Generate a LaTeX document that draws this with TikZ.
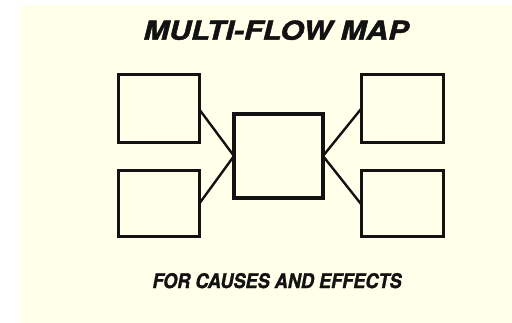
\documentclass[tikz,border=0pt]{standalone}
\usepackage{fontspec}
\setsansfont{TeX Gyre Heros}
\newfontfamily\titlefont[BoldItalicFeatures={FakeBold=1.5}]{TeX Gyre Heros}
\usepackage{graphicx}
\definecolor{cream}{RGB}{255,255,234}
\definecolor{ink}{RGB}{18,18,18}
\begin{document}
\begin{tikzpicture}[x=1pt,y=-1pt,
  mapbox/.style={draw=ink, line width=3pt, outer sep=0pt, inner sep=0pt, rectangle},
  link/.style={draw=ink, line width=2.4pt},
  txt/.style={inner sep=0pt, outer sep=0pt, text=ink, anchor=south west}]
\useasboundingbox (0,0) rectangle (512,323);
\fill[white] (0,0) rectangle (512,323);
\fill[cream] (19,5) rectangle (512,323);
% boxes
\node[mapbox, minimum width=81pt, minimum height=68pt] (lt) at (158.5,109) {};
\node[mapbox, minimum width=81pt, minimum height=66pt] (lb) at (158.5,204) {};
\node[mapbox, line width=3.4pt, minimum width=89pt, minimum height=84pt] (c) at (278.5,156) {};
\node[mapbox, minimum width=82pt, minimum height=68pt] (rt) at (402,109) {};
\node[mapbox, minimum width=82pt, minimum height=66pt] (rb) at (402,204) {};
% connectors
\draw[link] (lt.east) -- (c.west);
\draw[link] (lb.east) -- (c.west);
\draw[link] (c.east) -- (rt.west);
\draw[link] (c.east) -- (rb.west);
% texts
\node[txt] (title) at (143.5,40) {\resizebox{265pt}{19.3pt}{\titlefont\bfseries\itshape MULTI-FLOW MAP}};
\node[txt] (sub) at (152.5,288.3) {\resizebox{249pt}{15pt}{\titlefont\bfseries\itshape FOR CAUSES AND EFFECTS}};
\end{tikzpicture}
\end{document}
